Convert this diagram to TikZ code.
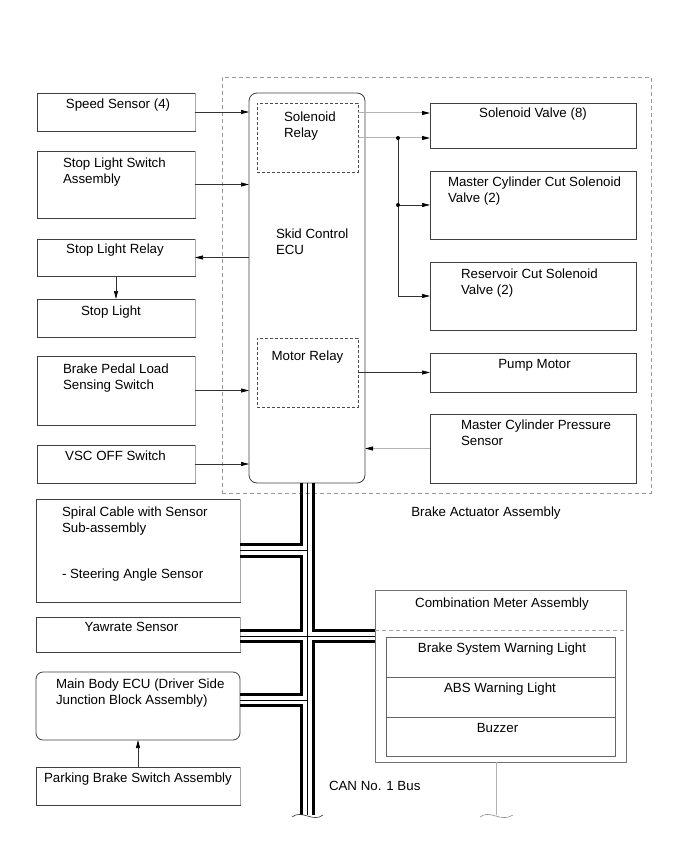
\documentclass[tikz,border=0pt]{standalone}
\usepackage{fontspec}
\setmainfont{Liberation Sans}
\usetikzlibrary{arrows.meta}
\newcommand{\mlines}[1]{\begin{tabular}[t]{@{}l@{}}#1\end{tabular}}
\begin{document}
\begin{tikzpicture}[x=1pt,y=-1pt,
  font=\fontsize{13.3}{16}\selectfont,
  box/.style={draw=black!75, line width=0.8pt, inner sep=0pt, outer sep=0pt, anchor=north west},
  rbox/.style={box, rounded corners=8pt},
  relaybox/.style={draw=black!70, line width=0.7pt, dash pattern=on 3pt off 2pt, inner sep=0pt, outer sep=0pt, anchor=north west},
  actbox/.style={draw=black!40, line width=0.8pt, dash pattern=on 4pt off 3pt, inner sep=0pt, outer sep=0pt, anchor=north west},
  lbl/.style={inner sep=0pt, outer sep=0pt},
  conn/.style={draw=black!80, line width=0.7pt, -{Triangle[length=8pt,width=4pt,color=black]}},
  gconn/.style={draw=black!30, line width=1pt, -{Triangle[length=8pt,width=4pt,color=black]}},
  wire/.style={draw=black!80, line width=0.7pt},
  can/.style={draw=black, line width=3.3pt, line join=miter, line cap=butt},
  canthin/.style={draw=black, line width=0.9pt},
  jdot/.style={circle, fill=black, inner sep=0pt, minimum size=4pt}
]
\useasboundingbox (0,0) rectangle (690,853);

% Brake actuator boundary
\node[actbox, minimum width=429pt, minimum height=416pt] (act) at (222,77) {};

% left column
\node[box, minimum width=158pt, minimum height=38pt] (ss)  at (37,93)  {};
\node[box, minimum width=158pt, minimum height=67pt] (sls) at (37,151) {};
\node[box, minimum width=158pt, minimum height=37pt] (slr) at (37,239) {};
\node[box, minimum width=158pt, minimum height=38pt] (sl)  at (37,299) {};
\node[box, minimum width=158pt, minimum height=69pt] (bpl) at (37,356) {};
\node[box, minimum width=158pt, minimum height=38pt] (vsc) at (37,445) {};

% ECU
\node[rbox, minimum width=116pt, minimum height=390pt] (ecu) at (249,93) {};
\node[relaybox, minimum width=101pt, minimum height=69pt] (sr) at (257,103) {};
\node[relaybox, minimum width=101pt, minimum height=69pt] (mr) at (257,338) {};

% right column
\node[box, minimum width=206pt, minimum height=45pt] (sv)  at (430,103) {};
\node[box, minimum width=206pt, minimum height=68pt] (mcc) at (430,171) {};
\node[box, minimum width=206pt, minimum height=68pt] (rc)  at (430,262) {};
\node[box, minimum width=206pt, minimum height=39pt] (pm)  at (430,353) {};
\node[box, minimum width=206pt, minimum height=69pt] (mcp) at (430,414) {};

% lower left
\node[box, minimum width=204pt, minimum height=103pt] (sc) at (36,499) {};
\node[box, minimum width=204pt, minimum height=35pt]  (yr) at (36,617) {};
\node[box, rounded corners=7pt, minimum width=204pt, minimum height=68pt] (mb) at (36,672) {};
\node[box, minimum width=204pt, minimum height=38pt]  (pb) at (36,767) {};

% combination meter
\node[box, draw=black!55, minimum width=251pt, minimum height=172pt] (cm) at (375,590) {};
\node[box, draw=black!60, minimum width=229pt, minimum height=40pt] (bsw) at (386,637) {};
\node[box, draw=black!60, minimum width=229pt, minimum height=40pt] (abs) at (386,677) {};
\node[box, draw=black!60, minimum width=229pt, minimum height=39pt] (bz)  at (386,717) {};
\coordinate (cmdl) at ([yshift=-40pt]cm.north west);
\coordinate (cmdr) at ([yshift=-40pt]cm.north east);
\draw[draw=black!35, line width=0.8pt, dash pattern=on 4pt off 3pt] (cmdl) -- (cmdr);

% grey right edges of left boxes
\foreach \n in {ss,sls,slr,sl,bpl,vsc,sc,yr,pb}
  \draw[black!35, line width=1pt] (\n.north east) -- (\n.south east);

% labels
\node[lbl, anchor=base] (tss) at (118,108.5) {Speed Sensor (4)};
\node[lbl, anchor=base west] (tsls) at (63,167.5) {\mlines{Stop Light Switch\\Assembly}};
\node[lbl, anchor=base] (tslr) at (115,253.5) {Stop Light Relay};
\node[lbl, anchor=base] (tsl) at (111,315.5) {Stop Light};
\node[lbl, anchor=base west] (tbpl) at (63,373.5) {\mlines{Brake Pedal Load\\Sensing Switch}};
\node[lbl, anchor=base] (tvsc) at (115.5,460.5) {VSC OFF Switch};
\node[lbl, anchor=base west] (tecu) at (276,238.5) {\mlines{Skid Control\\ECU}};
\node[lbl, anchor=base west] (tsr) at (284,121.5) {\mlines{Solenoid\\Relay}};
\node[lbl, anchor=base] (tmr) at (307.5,360.5) {Motor Relay};
\node[lbl, anchor=base] (tsv) at (533,117.5) {Solenoid Valve (8)};
\node[lbl, anchor=base west] (tmcc) at (448,186.5) {\mlines{Master Cylinder Cut Solenoid\\Valve (2)}};
\node[lbl, anchor=base west] (trc) at (461,278.5) {\mlines{Reservoir Cut Solenoid\\Valve (2)}};
\node[lbl, anchor=base] (tpm) at (534.5,368.5) {Pump Motor};
\node[lbl, anchor=base west] (tmcp) at (461,429.5) {\mlines{Master Cylinder Pressure\\Sensor}};
\node[lbl, anchor=base] (tact) at (486,516.5) {Brake Actuator Assembly};
\node[lbl, anchor=base west] (tsc) at (62,516.5) {\mlines{Spiral Cable with Sensor\\Sub-assembly}};
\node[lbl, anchor=base west] (tsa) at (62,578.5) {- Steering Angle Sensor};
\node[lbl, anchor=base] (tyr) at (131.5,631.5) {Yawrate Sensor};
\node[lbl, anchor=base west] (tmb) at (56,688.5) {\mlines{Main Body ECU (Driver Side\\Junction Block Assembly)}};
\node[lbl, anchor=base] (tpb) at (138,782.5) {Parking Brake Switch Assembly};
\node[lbl, anchor=base west] (tcan) at (329,790.5) {CAN No. 1 Bus};
\node[lbl, anchor=base] (tcm) at (502,607.5) {Combination Meter Assembly};
\node[lbl, anchor=base] (tbsw) at (502,652.5) {Brake System Warning Light};
\node[lbl, anchor=base] (tabs) at (500,692.5) {ABS Warning Light};
\node[lbl, anchor=base] (tbz) at (497.5,732.5) {Buzzer};

% connectors left
\draw[conn] (ss.east) -- (ss.east -| ecu.west);
\draw[conn] (sls.east) -- (sls.east -| ecu.west);
\draw[conn] (slr.east -| ecu.west) -- (slr.east);
\draw[conn] (slr.south) -- (sl.north);
\draw[conn] (bpl.east) -- (bpl.east -| ecu.west);
\draw[conn] (vsc.east) -- (vsc.east -| ecu.west);
\draw[conn] (pb.north) -- (mb.south);

% connectors right
\coordinate (jx) at (398,0);
\coordinate (sva) at ([yshift=12.5pt]sv.west);
\coordinate (svb) at ([yshift=-12.5pt]sv.west);
\draw[gconn] (sva -| sr.east) -- (sva);
\draw[gconn] (svb -| sr.east) -- (svb);
\draw[wire] (jx |- svb) -- (jx |- rc.west);
\draw[conn] (jx |- mcc.west) -- (mcc.west);
\draw[conn] (jx |- rc.west) -- (rc.west);
\node[jdot] (j1) at (jx |- svb) {};
\node[jdot] (j2) at (jx |- mcc.west) {};
\draw[conn] (pm.west -| mr.east) -- (pm.west);
\draw[gconn] (mcp.west) -- (mcp.west -| ecu.east);

% CAN bus
\coordinate (xL) at (301.8,0);
\coordinate (xC) at (307.5,0);
\coordinate (xR) at (313.2,0);
\coordinate (yS1) at (0,544.8);
\coordinate (yS)  at (0,550.5);
\coordinate (yS2) at (0,556.2);
\coordinate (yY1) at (0,630.3);
\coordinate (yY)  at (0,636);
\coordinate (yY2) at (0,641.7);
\coordinate (yM1) at (0,694.3);
\coordinate (yM)  at (0,700);
\coordinate (yM2) at (0,705.7);
\coordinate (yE)  at (0,815);

\draw[can] (xL |- ecu.south) -- (xL |- yS1) -- (sc.east |- yS1);
\draw[can] (sc.east |- yS2) -- (xL |- yS2) -- (xL |- yY1) -- (yr.east |- yY1);
\draw[can] (yr.east |- yY2) -- (xL |- yY2) -- (xL |- yM1) -- (mb.east |- yM1);
\draw[can] (mb.east |- yM2) -- (xL |- yM2) -- (xL |- yE);
\draw[can] (xR |- ecu.south) -- (xR |- yY1) -- (cm.west |- yY1);
\draw[can] (cm.west |- yY2) -- (xR |- yY2) -- (xR |- yE);
\draw[canthin] (xC |- ecu.south) -- (xC |- yE);
\draw[canthin] (sc.east |- yS) -- (xC |- yS);
\draw[canthin] (yr.east |- yY) -- (cm.west |- yY);
\draw[canthin] (mb.east |- yM) -- (xC |- yM);

% breaks
\draw[wire, line width=0.6pt] (292,817) .. controls (302,809) and (313,823) .. (323,815);
\coordinate (xG) at (496,0);
\draw[draw=black!30, line width=1pt] (xG |- cm.south) -- (xG |- yE);
\draw[draw=black!45, line width=0.6pt] (480,817) .. controls (490,809) and (501,823) .. (513,815);
\end{tikzpicture}
\end{document}
